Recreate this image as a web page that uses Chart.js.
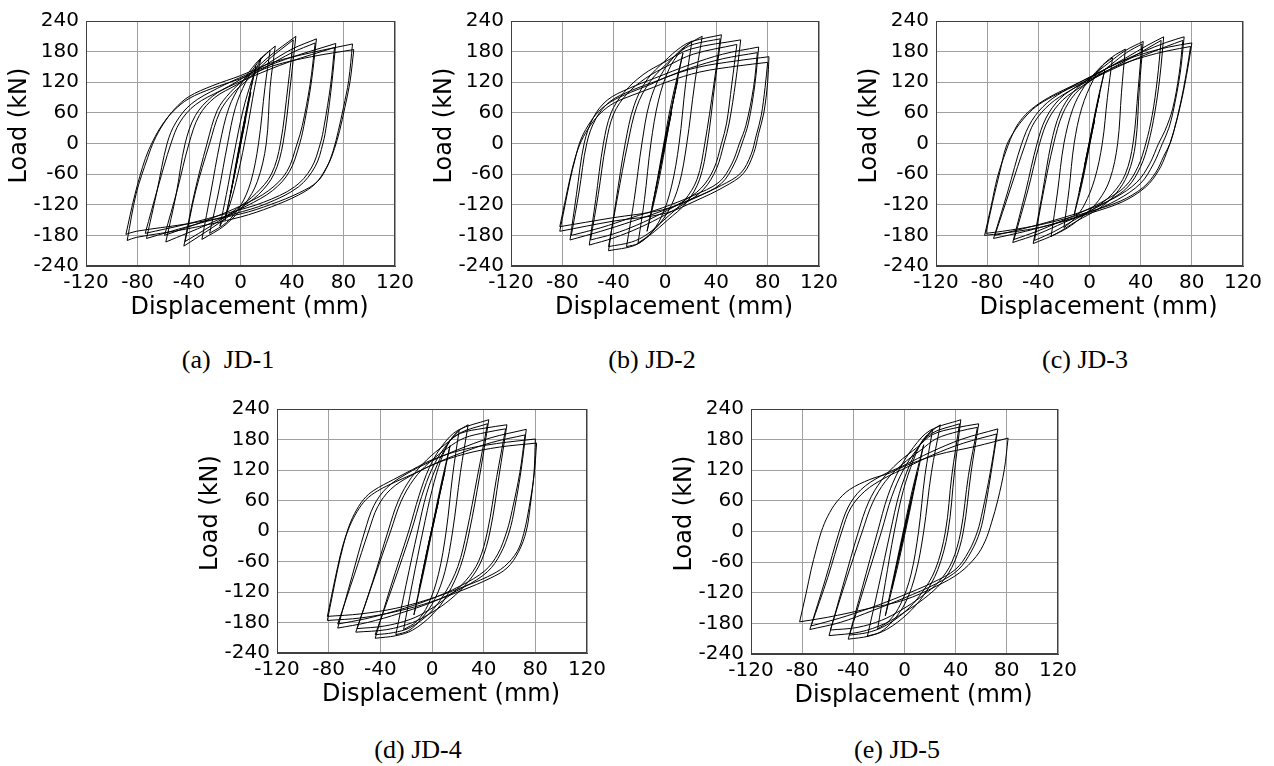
<!DOCTYPE html>
<html>
<head>
<meta charset="utf-8">
<script src="https://cdn.jsdelivr.net/npm/chart.js@4.4.0/dist/chart.umd.min.js"></script>
<style>
  body { margin: 0; background: #fff; width: 1274px; height: 766px; position: relative; overflow: hidden; }
  canvas { position: absolute; }
  .caption {
    position: absolute; width: 200px; text-align: center; white-space: pre;
    font-family: "Liberation Serif", "Times New Roman", serif; font-size: 26px; line-height: 30px; color: #000;
  }
</style>
</head>
<body>
<canvas id="jd1"></canvas>
<canvas id="jd2"></canvas>
<canvas id="jd3"></canvas>
<canvas id="jd4"></canvas>
<canvas id="jd5"></canvas>
<div id="captions"></div>
<script>
// axis ticks and labels
const dispTicks = [-120, -80, -40, 0, 40, 80, 120];
const loadTicks = [-240, -180, -120, -60, 0, 60, 120, 180, 240];
const xTitle = 'Displacement (mm)';
const yTitle = 'Load (kN)';
const captions = ['(a)  JD-1', '(b) JD-2', '(c) JD-3', '(d) JD-4', '(e) JD-5'];

// hysteresis branches: [displacement mm, load kN]
const jd1Branches = [
  [[-4,-50],[0,-2],[4,48]], [[4,48],[0,4],[-4,-50]],
  [[-8,-102],[-3,-42],[3,35],[8,100]], [[8,100],[3,45],[-3,-32],[-8,-102]],
  [[-12,-150],[-7,-90],[-1,-12],[5,70],[12,152]], [[12,152],[7,95],[1,18],[-5,-65],[-12,-150]],
  [[-16,-162],[-11,-100],[-5,-20],[2,65],[9,125],[16,168]], [[16,168],[11,110],[5,25],[-2,-60],[-9,-125],[-16,-162]],
  [[-24,-176],[-17,-95],[-10,0],[-4,70],[4,120],[13,157],[23,183]], [[23,183],[19,110],[14,0],[8,-75],[0,-122],[-11,-155],[-24,-176]],
  [[-30,-188],[-23,-95],[-16,0],[-9,70],[0,115],[13,160],[27,191]], [[27,191],[23,110],[20,0],[13,-75],[3,-120],[-12,-160],[-30,-188]],
  [[-44,-201],[-36,-100],[-26,0],[-18,65],[-8,100],[5,130],[22,170],[43,210]], [[43,210],[39,120],[33,0],[26,-60],[14,-100],[-2,-130],[-22,-165],[-44,-201]],
  [[-43,-192],[-35,-95],[-24,0],[-16,62],[-6,98],[6,126],[22,165],[41,203]], [[41,203],[37,115],[31,0],[24,-60],[12,-98],[-3,-128],[-22,-160],[-43,-192]],
  [[-58,-193],[-50,-100],[-43,0],[-35,55],[-22,92],[-5,118],[20,155],[40,185],[59,205]], [[59,205],[55,120],[50,45],[46,0],[38,-55],[25,-92],[5,-122],[-25,-158],[-58,-193]],
  [[-59,-180],[-49,-90],[-40,0],[-32,55],[-20,90],[-3,115],[20,150],[40,178],[58,197]], [[58,197],[54,115],[48,35],[44,0],[36,-55],[22,-92],[2,-120],[-28,-152],[-59,-180]],
  [[-73,-186],[-65,-95],[-57,0],[-50,42],[-38,78],[-18,108],[5,135],[35,165],[74,196]], [[74,196],[71,120],[67,40],[64,0],[58,-45],[45,-85],[20,-118],[-5,-138],[-40,-162],[-73,-186]],
  [[-74,-176],[-64,-85],[-54,0],[-47,42],[-35,76],[-15,104],[8,130],[38,160],[73,188]], [[73,188],[70,115],[65,35],[62,0],[55,-48],[42,-85],[18,-115],[-8,-135],[-42,-158],[-74,-176]],
  [[-88,-190],[-81,-98],[-72,-27],[-67,6],[-60,38],[-51,68],[-40,92],[-22,113],[0,133],[25,159],[55,178],[87,195]],
  [[87,195],[84,123],[80,71],[76,25],[72,-14],[67,-46],[58,-79],[45,-101],[24,-124],[0,-144],[-43,-168],[-81,-184],[-88,-190]],
  [[-89,-178],[-82,-100],[-74,-30],[-68,5],[-61,36],[-52,64],[-40,88],[-22,108],[0,127],[25,152],[55,170],[88,184]],
  [[88,184],[85,120],[81,70],[77,25],[73,-10],[68,-42],[60,-74],[46,-96],[24,-119],[0,-138],[-43,-158],[-81,-172],[-89,-178]]
];

const jd2Branches = [
  [[-5,-62],[0,-3],[5,60]], [[5,60],[0,5],[-5,-62]],
  [[-10,-125],[-4,-50],[2,30],[10,125]], [[10,125],[4,55],[-2,-25],[-10,-125]],
  [[-14,-172],[-8,-98],[-2,-15],[5,80],[14,177]], [[14,177],[8,105],[2,20],[-5,-75],[-14,-172]],
  [[-21,-195],[-16,-110],[-11,0],[-5,85],[3,145],[12,180],[21,201]], [[21,201],[16,115],[11,0],[5,-85],[-3,-145],[-12,-178],[-21,-195]],
  [[-30,-202],[-24,-110],[-18,0],[-12,80],[-3,135],[10,178],[21,199],[29,210]], [[29,210],[23,115],[17,0],[11,-80],[2,-135],[-11,-176],[-21,-196],[-30,-202]],
  [[-44,-210],[-38,-110],[-31,0],[-24,75],[-14,125],[0,162],[12,188],[21,200],[44,213]], [[44,213],[39,120],[33,0],[27,-70],[17,-115],[2,-150],[-12,-180],[-24,-200],[-44,-210]],
  [[-44,-202],[-37,-105],[-29,0],[-22,72],[-12,120],[2,158],[14,184],[23,195],[43,205]], [[43,205],[38,115],[31,0],[25,-70],[15,-112],[0,-148],[-14,-178],[-26,-193],[-44,-202]],
  [[-59,-199],[-54,-110],[-48,0],[-42,60],[-32,100],[-17,135],[0,160],[20,185],[59,203]], [[59,203],[55,120],[50,40],[46,0],[40,-50],[30,-90],[15,-118],[0,-140],[-20,-165],[-40,-185],[-59,-199]],
  [[-58,-189],[-52,-100],[-46,0],[-40,58],[-30,96],[-15,128],[2,152],[22,175],[56,194]], [[56,194],[52,115],[48,40],[44,0],[38,-50],[28,-88],[13,-115],[-2,-136],[-22,-160],[-40,-177],[-58,-189]],
  [[-74,-189],[-69,-100],[-63,0],[-56,50],[-45,85],[-28,108],[-8,128],[20,155],[45,175],[73,189]], [[73,189],[70,115],[65,40],[60,0],[54,-40],[44,-78],[25,-105],[0,-130],[-25,-152],[-50,-172],[-74,-189]],
  [[-73,-180],[-67,-95],[-61,0],[-54,48],[-43,82],[-26,104],[-6,123],[20,148],[45,166],[72,178]], [[72,178],[69,110],[63,35],[58,0],[52,-40],[42,-76],[22,-102],[-2,-126],[-27,-146],[-50,-165],[-73,-180]],
  [[-82,-172],[-78,-122],[-74,-72],[-70,-30],[-66,5],[-60,35],[-52,62],[-42,82],[-27,100],[-11,116],[0,129],[25,149],[56,162],[81,170]],
  [[81,170],[80,120],[77,60],[73,20],[69,-20],[61,-59],[46,-85],[25,-111],[0,-137],[-40,-152],[-82,-172]],
  [[-82,-163],[-78,-115],[-74,-68],[-70,-28],[-65,6],[-58,36],[-50,60],[-40,79],[-25,95],[-9,110],[2,121],[27,140],[57,152],[80,159]],
  [[80,159],[78,110],[75,55],[71,15],[67,-22],[59,-58],[44,-82],[23,-106],[-2,-130],[-42,-146],[-82,-163]]
];

const jd3Branches = [
  [[-4,-45],[0,-2],[4,45]], [[4,45],[0,3],[-4,-45]],
  [[-8,-95],[-3,-35],[3,40],[8,98]], [[8,98],[3,38],[-3,-38],[-8,-95]],
  [[-12,-140],[-6,-70],[0,5],[6,80],[12,145]], [[12,145],[6,75],[0,-5],[-6,-80],[-12,-140]],
  [[-20,-165],[-16,-90],[-12,0],[-6,70],[3,125],[10,152],[18,168]], [[18,168],[14,90],[10,0],[4,-70],[-4,-120],[-12,-148],[-20,-165]],
  [[-30,-182],[-25,-95],[-20,0],[-13,68],[-4,112],[8,148],[18,170],[28,185]], [[28,185],[25,100],[22,0],[16,-70],[7,-112],[-5,-142],[-17,-165],[-30,-182]],
  [[-44,-196],[-37,-100],[-30,0],[-23,60],[-13,100],[0,128],[15,158],[28,182],[42,200]], [[42,200],[39,110],[36,0],[30,-60],[20,-100],[7,-128],[-10,-152],[-27,-178],[-44,-196]],
  [[-43,-190],[-36,-95],[-28,0],[-21,58],[-11,98],[2,125],[17,155],[29,178],[41,195]], [[41,195],[38,105],[34,0],[28,-60],[18,-98],[5,-125],[-12,-150],[-28,-173],[-43,-190]],
  [[-60,-194],[-50,-95],[-41,0],[-34,50],[-23,88],[-8,115],[10,142],[30,170],[45,192],[58,209]], [[58,209],[55,130],[51,60],[46,0],[40,-45],[30,-85],[15,-112],[-2,-135],[-20,-155],[-40,-177],[-60,-194]],
  [[-59,-188],[-48,-90],[-39,0],[-32,48],[-21,85],[-6,112],[12,140],[32,167],[45,186],[56,202]], [[56,202],[53,125],[49,55],[44,0],[38,-45],[28,-84],[13,-110],[-4,-132],[-22,-152],[-41,-172],[-59,-188]],
  [[-75,-186],[-64,-95],[-53,0],[-45,45],[-33,80],[-17,107],[0,130],[20,155],[42,180],[60,198],[74,209]], [[74,209],[71,140],[66,70],[62,30],[57,0],[50,-40],[40,-78],[22,-110],[0,-135],[-25,-155],[-50,-172],[-75,-186]],
  [[-74,-180],[-62,-90],[-50,0],[-43,42],[-31,77],[-15,104],[2,126],[22,150],[44,174],[60,190],[73,202]], [[73,202],[70,135],[65,68],[59,25],[54,0],[47,-40],[37,-76],[20,-106],[-2,-130],[-27,-150],[-52,-167],[-74,-180]],
  [[-82,-180],[-77,-124],[-72,-66],[-67,-27],[-60,19],[-54,45],[-45,68],[-32,90],[-16,110],[0,129],[20,155],[41,175],[62,189],[80,197]],
  [[80,197],[77,150],[72,85],[66,25],[60,-20],[54,-53],[44,-85],[26,-114],[0,-137],[-21,-153],[-42,-166],[-68,-176],[-82,-180]],
  [[-81,-176],[-76,-118],[-70,-55],[-65,-5],[-58,27],[-51,50],[-42,72],[-29,92],[-13,111],[2,128],[22,152],[43,170],[62,182],[79,190]],
  [[79,190],[76,142],[71,77],[66,25],[63,0],[58,-25],[52,-56],[42,-86],[24,-113],[-2,-135],[-23,-150],[-44,-162],[-68,-172],[-81,-176]]
];

const jd4Branches = [
  [[-5,-55],[0,0],[5,58]], [[5,58],[0,5],[-5,-55]],
  [[-10,-115],[-4,-40],[3,40],[10,118]], [[10,118],[4,50],[-3,-30],[-10,-115]],
  [[-14,-165],[-8,-92],[-1,-8],[6,80],[14,168]], [[14,168],[8,95],[1,12],[-6,-75],[-14,-165]],
  [[-22,-194],[-15,-100],[-7,0],[0,80],[7,140],[14,178],[21,198]], [[21,198],[16,110],[11,0],[5,-85],[-3,-145],[-12,-178],[-22,-194]],
  [[-28,-204],[-20,-105],[-11,0],[-4,75],[4,130],[12,170],[20,196],[28,209]], [[28,209],[22,115],[16,0],[10,-80],[2,-135],[-8,-172],[-18,-196],[-28,-204]],
  [[-44,-211],[-32,-110],[-18,0],[-10,70],[-2,125],[8,168],[20,198],[44,219]], [[44,219],[37,110],[29,0],[22,-70],[12,-125],[0,-165],[-15,-195],[-28,-206],[-44,-211]],
  [[-44,-204],[-30,-105],[-16,0],[-8,68],[0,122],[10,165],[21,192],[43,211]], [[43,211],[35,105],[27,0],[20,-70],[10,-122],[-2,-162],[-17,-190],[-30,-200],[-44,-204]],
  [[-59,-199],[-46,-100],[-34,0],[-26,60],[-16,105],[-4,140],[10,170],[22,192],[40,202],[58,209]], [[58,209],[52,110],[45,0],[38,-60],[28,-100],[14,-135],[0,-160],[-15,-180],[-35,-194],[-59,-199]],
  [[-58,-192],[-45,-95],[-32,0],[-24,58],[-14,102],[-2,135],[12,163],[25,183],[42,194],[57,201]], [[57,201],[50,105],[43,0],[36,-60],[26,-98],[12,-130],[-2,-155],[-17,-174],[-37,-187],[-58,-192]],
  [[-73,-191],[-62,-90],[-52,0],[-45,50],[-35,85],[-20,112],[0,138],[20,160],[45,183],[73,200]], [[73,200],[69,120],[64,45],[60,0],[53,-45],[43,-80],[25,-110],[0,-140],[-25,-162],[-50,-180],[-73,-191]],
  [[-73,-183],[-60,-85],[-49,0],[-42,48],[-32,82],[-17,108],[2,132],[22,153],[46,174],[72,189]], [[72,189],[68,115],[62,40],[58,0],[51,-45],[41,-78],[22,-108],[-3,-136],[-28,-157],[-52,-173],[-73,-183]],
  [[-81,-176],[-77,-125],[-73,-75],[-69,-32],[-65,4],[-60,34],[-53,62],[-45,80],[-30,101],[-15,121],[0,140],[24,160],[50,172],[80,181]],
  [[80,181],[79,115],[76,48],[73,0],[67,-41],[58,-73],[45,-93],[24,-116],[0,-139],[-27,-158],[-55,-171],[-81,-176]],
  [[-81,-168],[-77,-118],[-73,-70],[-69,-28],[-64,8],[-58,38],[-51,62],[-42,79],[-28,97],[-12,115],[2,132],[26,152],[52,165],[81,173]],
  [[81,173],[79,109],[75,44],[71,-5],[66,-40],[56,-70],[43,-90],[22,-112],[-2,-134],[-28,-152],[-55,-163],[-81,-168]]
];

const jd5Branches = [
  [[-5,-55],[0,-2],[5,58]], [[5,58],[0,4],[-5,-55]],
  [[-10,-112],[-4,-42],[3,38],[10,115]], [[10,115],[4,48],[-3,-32],[-10,-112]],
  [[-15,-165],[-9,-95],[-2,-12],[6,80],[15,170]], [[15,170],[9,100],[2,15],[-6,-75],[-15,-165]],
  [[-21,-191],[-15,-100],[-8,0],[-1,80],[7,140],[14,178],[22,200]], [[22,200],[16,110],[11,0],[5,-85],[-3,-142],[-12,-175],[-21,-191]],
  [[-29,-205],[-20,-105],[-11,0],[-4,75],[4,130],[12,170],[21,196],[28,209]], [[28,209],[21,115],[15,0],[9,-80],[1,-138],[-9,-175],[-19,-197],[-29,-205]],
  [[-44,-211],[-33,-110],[-21,0],[-13,70],[-4,122],[7,165],[20,198],[44,219]], [[44,219],[39,115],[34,0],[26,-75],[15,-125],[2,-162],[-14,-192],[-28,-205],[-44,-211]],
  [[-43,-203],[-31,-105],[-18,0],[-10,68],[-1,120],[10,162],[21,192],[43,211]], [[43,211],[37,110],[32,0],[24,-75],[13,-122],[0,-158],[-16,-186],[-29,-198],[-43,-203]],
  [[-59,-204],[-48,-105],[-36,0],[-28,58],[-18,100],[-5,135],[10,165],[22,190],[40,203],[58,211]], [[58,211],[52,115],[46,0],[39,-60],[29,-100],[15,-132],[0,-158],[-15,-180],[-35,-197],[-59,-204]],
  [[-58,-193],[-46,-98],[-33,0],[-25,56],[-15,98],[-2,131],[13,160],[25,182],[42,196],[57,204]], [[57,204],[50,110],[44,0],[37,-60],[27,-98],[13,-128],[-2,-153],[-18,-174],[-37,-188],[-58,-193]],
  [[-74,-192],[-62,-95],[-51,0],[-44,48],[-34,82],[-19,108],[0,130],[20,155],[45,181],[73,201]], [[73,201],[68,120],[63,45],[59,0],[52,-40],[42,-75],[25,-102],[0,-130],[-25,-155],[-50,-178],[-74,-192]],
  [[-73,-185],[-60,-90],[-49,0],[-42,46],[-31,79],[-16,104],[2,126],[22,150],[46,173],[72,191]], [[72,191],[67,115],[61,40],[57,0],[50,-40],[40,-74],[22,-100],[-2,-126],[-27,-150],[-51,-170],[-73,-185]],
  [[-82,-177],[-77,-122],[-73,-75],[-69,-35],[-65,0],[-60,30],[-53,58],[-43,82],[-27,102],[-11,115],[0,128],[25,150],[56,167],[81,183]],
  [[81,183],[78,121],[73,62],[68,17],[63,-19],[56,-49],[43,-81],[25,-107],[0,-134],[-30,-152],[-60,-168],[-82,-177]]
];

// plot-area boxes on the page
const panels = [
  { id: 'jd1', left: 86,  top: 21,  w: 309, h: 245, branches: jd1Branches, cap: 228, capTop: 345 },
  { id: 'jd2', left: 511, top: 21,  w: 308, h: 245, branches: jd2Branches, cap: 652, capTop: 345 },
  { id: 'jd3', left: 936, top: 21,  w: 307, h: 245, branches: jd3Branches, cap: 1085, capTop: 345 },
  { id: 'jd4', left: 277, top: 409, w: 310, h: 244, branches: jd4Branches, cap: 418, capTop: 735 },
  { id: 'jd5', left: 751, top: 409, w: 307, h: 245, branches: jd5Branches, cap: 897, capTop: 735 }
];

const Y_AXIS_W = 86;
const X_AXIS_H = 62;
const PAD_TOP = 21;
const PAD_RIGHT = 30;

Chart.defaults.font.family = '"DejaVu Sans", sans-serif';
Chart.defaults.color = '#000';

const framePlugin = {
  id: 'frame',
  afterDraw(chart) {
    const { ctx, chartArea: a } = chart;
    ctx.save();
    ctx.strokeStyle = '#404040';
    ctx.lineWidth = 1;
    ctx.strokeRect(Math.round(a.left) + 0.5, Math.round(a.top) + 0.5, Math.round(a.right - a.left) - 1, Math.round(a.bottom - a.top) - 1);
    // axis titles
    ctx.fillStyle = '#000';
    ctx.font = '24px "DejaVu Sans", sans-serif';
    ctx.textAlign = 'center';
    ctx.textBaseline = 'alphabetic';
    ctx.fillText(xTitle, (a.left + a.right) / 2 + 9, a.bottom + 48);
    ctx.translate(a.left - 60, (a.top + a.bottom) / 2 - 18);
    ctx.rotate(-Math.PI / 2);
    ctx.fillText(yTitle, 0, 0);
    ctx.restore();
  }
};

function makeChart(p) {
  const canvas = document.getElementById(p.id);
  canvas.width = p.w + Y_AXIS_W + PAD_RIGHT;
  canvas.height = p.h + PAD_TOP + X_AXIS_H;
  canvas.style.left = (p.left - Y_AXIS_W) + 'px';
  canvas.style.top = (p.top - PAD_TOP) + 'px';
  canvas.style.width = canvas.width + 'px';
  canvas.style.height = canvas.height + 'px';

  const datasets = p.branches.map((b) => ({
    data: b.map(([x, y]) => ({ x, y })),
    showLine: true,
    borderColor: '#000',
    borderWidth: 1,
    pointRadius: 0,
    fill: false,
    tension: 0.35
  }));

  new Chart(canvas, {
    type: 'scatter',
    data: { datasets },
    options: {
      responsive: false,
      animation: false,
      devicePixelRatio: 1,
      events: [],
      layout: { padding: { left: 0, top: PAD_TOP, right: PAD_RIGHT, bottom: 0 } },
      plugins: { legend: { display: false }, tooltip: { enabled: false } },
      scales: {
        x: {
          type: 'linear',
          min: -120,
          max: 120,
          afterBuildTicks: (s) => { s.ticks = dispTicks.map((v) => ({ value: v })); },
          afterFit: (s) => { s.height = X_AXIS_H; },
          grid: { color: '#a0a0a0', lineWidth: 1, drawTicks: false },
          border: { color: '#404040', width: 1 },
          ticks: { autoSkip: false, maxRotation: 0, minRotation: 0, padding: 5, color: '#000', font: { size: 20 } }
        },
        y: {
          type: 'linear',
          min: -240,
          max: 240,
          afterBuildTicks: (s) => { s.ticks = loadTicks.map((v) => ({ value: v })); },
          afterFit: (s) => { s.width = Y_AXIS_W; },
          grid: { color: '#a0a0a0', lineWidth: 1, drawTicks: false },
          border: { color: '#404040', width: 1 },
          ticks: { autoSkip: false, padding: 7, color: '#000', font: { size: 20 } }
        }
      }
    },
    plugins: [framePlugin]
  });
}

panels.forEach(makeChart);

const capBox = document.getElementById('captions');
panels.forEach((p, i) => {
  const div = document.createElement('div');
  div.className = 'caption';
  div.style.left = (p.cap - 100) + 'px';
  div.style.top = p.capTop + 'px';
  div.textContent = captions[i];
  capBox.appendChild(div);
});
</script>
</body>
</html>
